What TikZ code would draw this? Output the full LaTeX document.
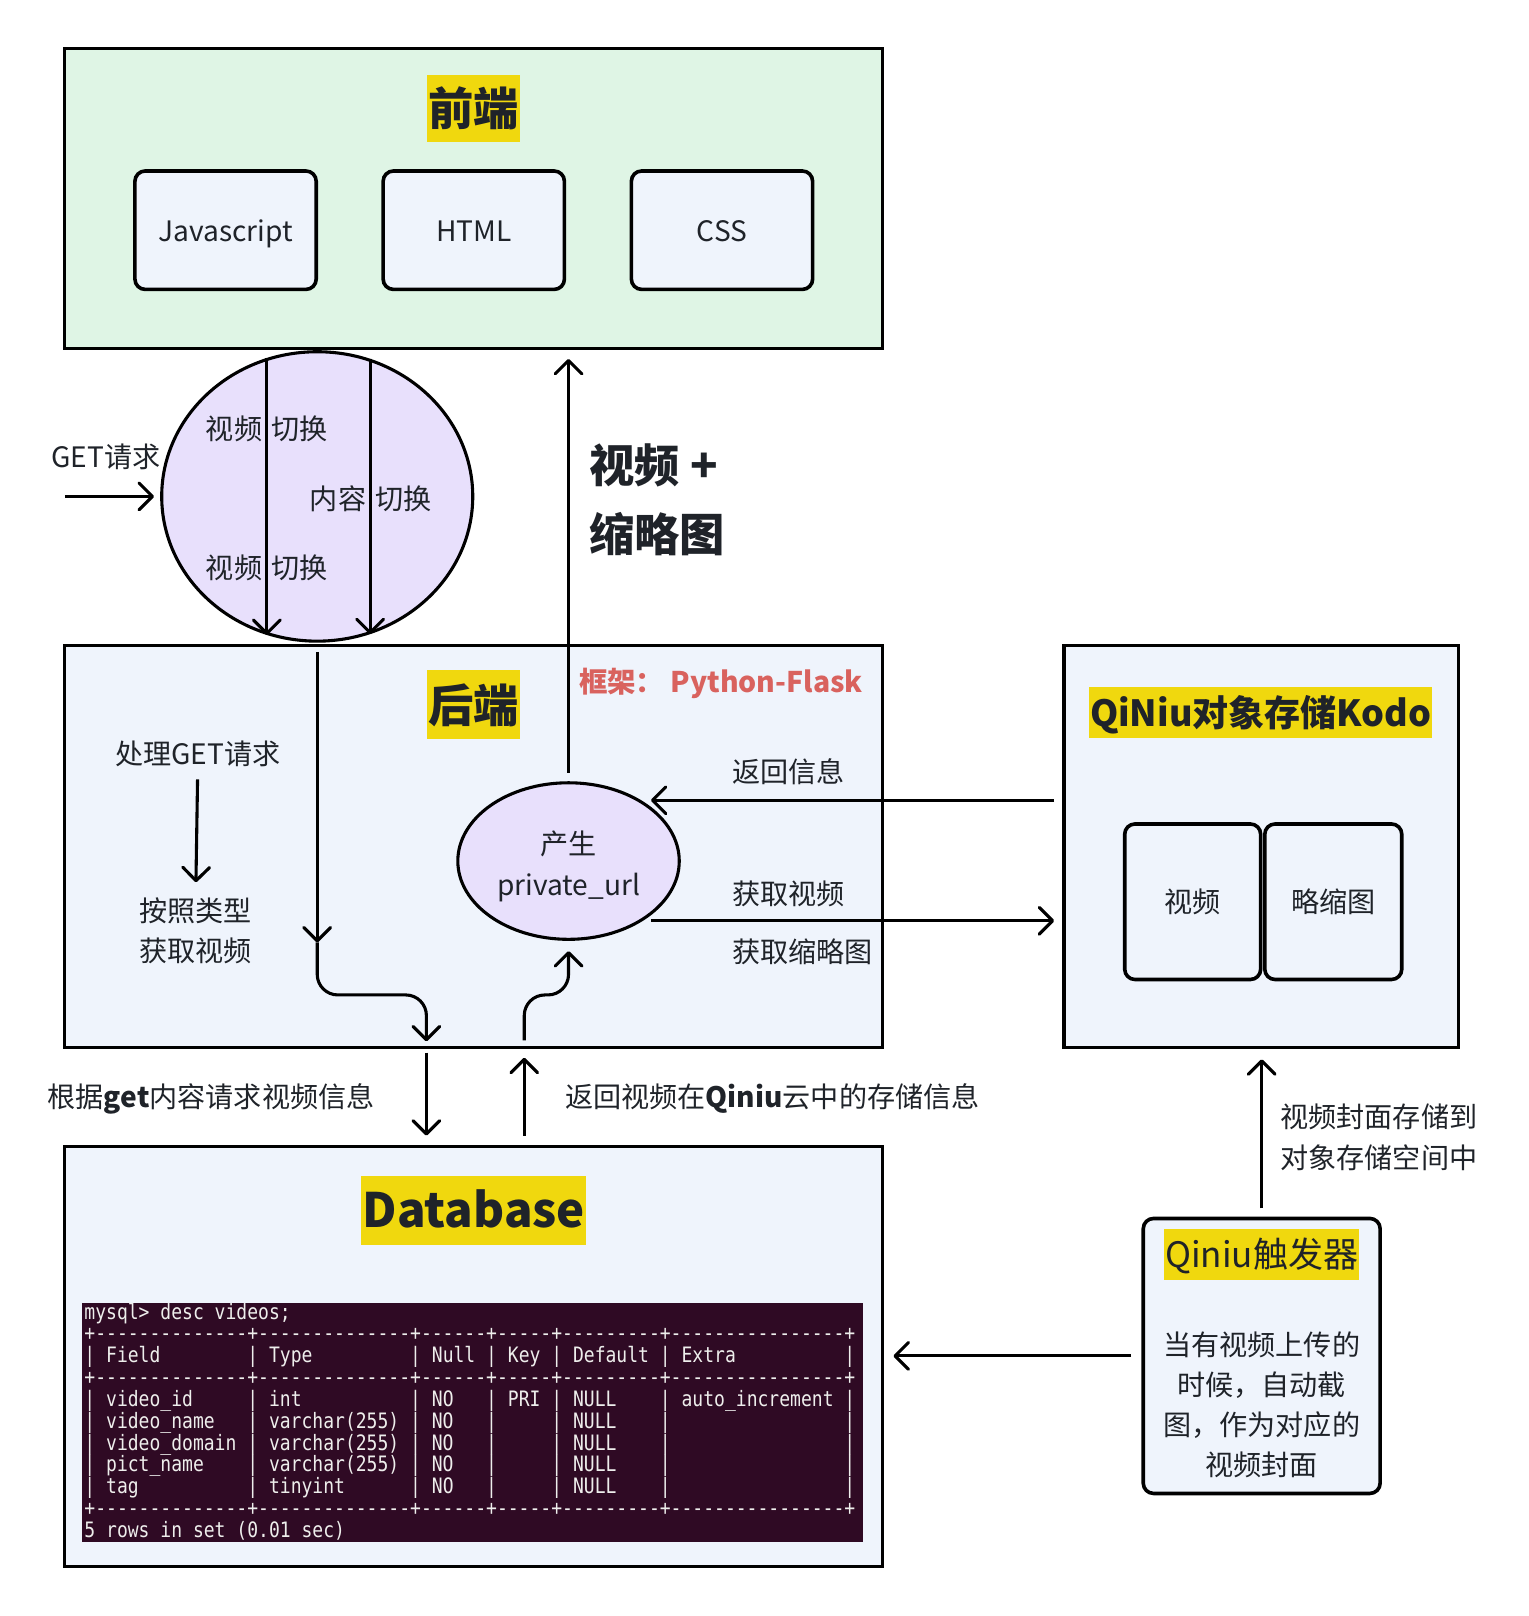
\documentclass[tikz,border=0pt]{standalone}
\usepackage{fontspec}
\setmainfont{Noto Sans CJK SC}
\setmonofont{DejaVu Sans Mono}[FakeStretch=0.85]
\usetikzlibrary{arrows.meta,shapes.geometric}
\definecolor{front-green}{HTML}{DFF5E5}
\definecolor{pale-blue}{HTML}{EFF4FC}
\definecolor{lavender}{HTML}{E8E0FC}
\definecolor{mark-yellow}{HTML}{F0D80E}
\definecolor{ink}{HTML}{1F2329}
\definecolor{flask-red}{HTML}{D9625E}
\definecolor{term-bg}{HTML}{2F0A24}
\definecolor{term-fg}{HTML}{EEEEEC}
\newlength\chw
\newcommand\dbcell[2]{\makebox[#1\chw][l]{\hspace{\chw}#2}}
\newcommand\dbrow[6]{\settowidth{\chw}{0}|\dbcell{14}{#1}|\dbcell{14}{#2}|\dbcell{6}{#3}|\dbcell{5}{#4}|\dbcell{9}{#5}|\dbcell{16}{#6}|}
\newcommand\dbline{+--------------+--------------+------+-----+---------+----------------+}
\tikzset{
    panel-box/.style = {draw=black, fill=pale-blue, line width=3pt, rectangle, inner sep=0pt},
    item-box/.style = {draw=black, fill=pale-blue, line width=3.5pt, rectangle, rounded corners=10pt, inner sep=0pt, text=ink, align=center, font=\fontsize{27.3}{39}\selectfont},
    oval-box/.style = {draw=black, fill=lavender, line width=3pt, ellipse, inner sep=0pt},
    title-mark/.style = {fill=mark-yellow, text=ink, inner xsep=1pt, inner ysep=0pt},
    plain-text/.style = {inner sep=0pt, text=ink, align=center, font=\fontsize{27.3}{39}\selectfont},
    flow-arrow/.style = {draw=black, line width=3pt, -{Straight Barb[length=13pt, width=26pt, round]}},
}
\begin{document}
\begin{tikzpicture}[x=1pt, y=-1pt]
\useasboundingbox (0,0) rectangle (1484,1569);

\node [panel-box, fill=front-green, minimum width=794pt, minimum height=291pt] (front) at (460,192.5) {};
\node [title-mark, font=\bfseries\fontsize{44}{44}\selectfont, text height=39pt, text depth=5pt, minimum height=65pt] (front-title) at (460,105) {前端};
\node [item-box, minimum width=176pt, minimum height=115pt, text height=24pt, text depth=2pt] (js) at (219,223.5) {Javascript};
\node [item-box, minimum width=176pt, minimum height=115pt, text height=24pt, text depth=2pt] (html) at (460,223.5) {HTML};
\node [item-box, minimum width=176pt, minimum height=115pt, text height=24pt, text depth=2pt] (css) at (701,223.5) {CSS};

\node [oval-box, minimum width=302pt, minimum height=281pt] (switch) at (308,482) {};
\node [plain-text] (switch-video-a) at (259,416) {视频\hspace{9pt}切换};
\node [plain-text] (switch-content) at (360,484) {内容\hspace{9pt}切换};
\node [plain-text] (switch-video-b) at (259,551) {视频\hspace{9pt}切换};
\draw [flow-arrow] (switch.110) -- (switch.250);
\draw [flow-arrow] (switch.69) -- (switch.291);
\coordinate (get-in) at (63,482);
\node [plain-text] (get-label) at (103,444) {GET请求};
\draw [flow-arrow, shorten >=6pt] (get-in) -- (switch.west);

\node [panel-box, minimum width=794pt, minimum height=390pt] (back) at (460,822) {};
\node [title-mark, font=\bfseries\fontsize{44}{44}\selectfont, text height=39pt, text depth=5pt, minimum height=67pt] (back-title) at (460,684) {后端};
\node [plain-text, text=flask-red, font=\bfseries\fontsize{27.6}{39}\selectfont] (flask) at (700,664) {框架：\ Python-Flask};
\node [plain-text] (handle) at (192,732) {处理GET请求};
\node [plain-text] (by-type) at (190,904) {按照类型\\获取视频};
\draw [flow-arrow, shorten <=12pt, shorten >=15pt] (handle.south) -- (by-type.north);
\node [oval-box, minimum width=215pt, minimum height=152pt] (url) at (552,836) {};
\node [plain-text, font=\fontsize{27.3}{40}\selectfont] (url-text) at (552,841) {产生\\private\_url};

\coordinate (req-split) at (308,915);
\coordinate (req-in) at (414,1011);
\draw [flow-arrow, shorten <=9pt] (switch.south) -- (req-split);
\draw [flow-arrow, rounded corners=20pt] (req-split) -- (308,966) -| (req-in);
\coordinate (res-out) at (509,1010);
\draw [flow-arrow, rounded corners=20pt, shorten >=10pt] (res-out) -- (509,966) -| (url.south);
\draw [flow-arrow, shorten <=8pt, shorten >=9pt] (url.north) -- (url.north |- front.south);
\node [plain-text, anchor=west, align=left, font=\bfseries\fontsize{44}{67}\selectfont] (media-label) at (572,485.5) {视频 +\\缩略图};

\node [panel-box, minimum width=383pt, minimum height=390pt] (kodo) at (1224.5,822) {};
\node [title-mark, font=\bfseries\fontsize{35}{35}\selectfont, text height=31pt, text depth=4pt, minimum height=50pt] (kodo-title) at (1224,692) {QiNiu对象存储Kodo};
\node [item-box, minimum width=132pt, minimum height=151pt] (kodo-video) at (1158,875.5) {视频};
\node [item-box, minimum width=133pt, minimum height=151pt] (kodo-thumb) at (1294.5,875.5) {略缩图};
\coordinate (info-in) at (632,777);
\draw [flow-arrow, shorten <=8pt] (info-in -| kodo.west) -- (info-in);
\node [plain-text, anchor=west] (info-label) at (711,749) {返回信息};
\coordinate (fetch-out) at (632,894);
\draw [flow-arrow, shorten >=8pt] (fetch-out) -- (fetch-out -| kodo.west);
\node [plain-text, anchor=west] (fetch-video) at (711,868) {获取视频};
\node [plain-text, anchor=west] (fetch-thumb) at (711,924) {获取缩略图};

\node [panel-box, minimum width=794pt, minimum height=408pt] (db) at (460,1317) {};
\node [title-mark, font=\bfseries\fontsize{46}{46}\selectfont, text height=40pt, text depth=6pt, minimum height=67pt] (db-title) at (460,1175) {Database};
\node [fill=term-bg, inner sep=0pt, minimum width=758pt, minimum height=232pt] (term) at (459,1381) {};
\node [anchor=north west, inner sep=0pt, text=term-fg, align=left, font=\ttfamily\fontsize{20.6}{21.2}\selectfont] (term-text) at ([xshift=2pt]term.north west) {mysql> desc videos;\\
\dbline\\
\dbrow{Field}{Type}{Null}{Key}{Default}{Extra}\\
\dbline\\
\dbrow{video\_id}{int}{NO}{PRI}{NULL}{auto\_increment}\\
\dbrow{video\_name}{varchar(255)}{NO}{}{NULL}{}\\
\dbrow{video\_domain}{varchar(255)}{NO}{}{NULL}{}\\
\dbrow{pict\_name}{varchar(255)}{NO}{}{NULL}{}\\
\dbrow{tag}{tinyint}{NO}{}{NULL}{}\\
\dbline\\
5 rows in set (0.01 sec)};

\coordinate (req-out) at (414,1022);
\draw [flow-arrow, shorten >=9pt] (req-out) -- (req-out |- db.north);
\coordinate (res-in) at (509,1027);
\draw [flow-arrow, shorten <=9pt] (db.north -| res-in) -- (res-in);
\node [plain-text] (req-label) at (205,1067) {根据\textbf{get}内容请求视频信息};
\node [plain-text] (res-label) at (750,1067) {返回视频在\textbf{Qiniu}云中的存储信息};

\node [item-box, minimum width=230pt, minimum height=267pt] (trigger) at (1225,1316.5) {};
\node [title-mark, font=\fontsize{34}{34}\selectfont, text height=30pt, text depth=4pt, minimum height=50pt] (trigger-title) at (1225,1218) {Qiniu触发器};
\node [plain-text] (trigger-text) at (1225,1364) {当有视频上传的\\时候，自动截\\图，作为对应的\\视频封面};
\draw [flow-arrow, shorten <=8pt, shorten >=10pt] (trigger.north) -- (trigger.north |- kodo.south);
\node [plain-text, anchor=west, align=left, font=\fontsize{27.3}{40}\selectfont] (cover-label) at (1243,1104) {视频封面存储到\\对象存储空间中};
\draw [flow-arrow, shorten <=10pt, shorten >=9pt] (trigger.west) -- (trigger.west -| db.east);
\end{tikzpicture}
\end{document}
